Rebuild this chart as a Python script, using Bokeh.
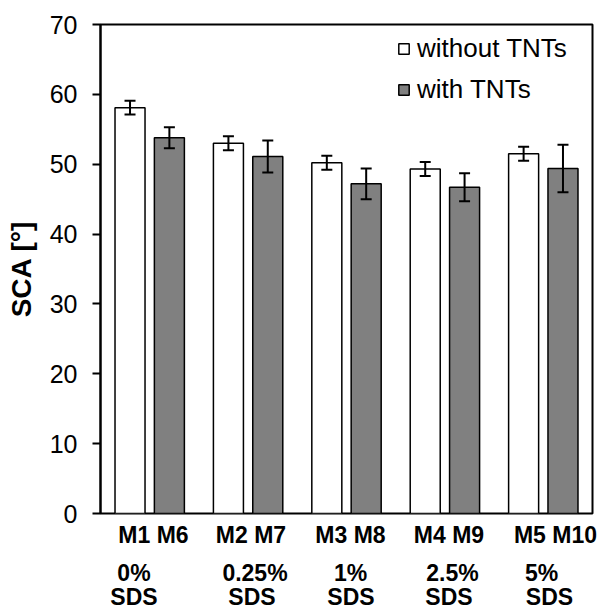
from bokeh.plotting import figure
from bokeh.models import (ColumnDataSource, Range1d, FixedTicker, Whisker, TeeHead,
                          Legend, LegendItem, LinearAxis, CustomJSTickFormatter)
from bokeh.embed import file_html
from bokeh.resources import INLINE

# Static contact angle of the membranes, grouped by SDS concentration
sds_levels = ["0%", "0.25%", "1%", "2.5%", "5%"]
names_without = ["M1", "M2", "M3", "M4", "M5"]
names_with = ["M6", "M7", "M8", "M9", "M10"]
sca_without = [58.1, 53.0, 50.2, 49.3, 51.5]
err_without = [1.0, 1.0, 1.0, 1.0, 1.0]
sca_with = [53.8, 51.1, 47.2, 46.7, 49.4]
err_with = [1.5, 2.3, 2.2, 2.0, 3.4]
y_ticks = [0, 10, 20, 30, 40, 50, 60, 70]

FONT = "Liberation Sans"
W, H = 598, 612
BORDER_L, BORDER_R, BORDER_T, BORDER_B = 100, 6, 24, 96

n = len(sds_levels)
centers = [i + 0.5 for i in range(n)]
shift = 0.2
bar_w = 0.305

src_without = ColumnDataSource(dict(
    x=[c - shift for c in centers], top=sca_without,
    upper=[v + e for v, e in zip(sca_without, err_without)],
    lower=[v - e for v, e in zip(sca_without, err_without)]))
src_with = ColumnDataSource(dict(
    x=[c + shift for c in centers], top=sca_with,
    upper=[v + e for v, e in zip(sca_with, err_with)],
    lower=[v - e for v, e in zip(sca_with, err_with)]))

p = figure(width=W, height=H, output_backend="svg", toolbar_location=None,
           x_range=Range1d(0, n), y_range=Range1d(y_ticks[0], y_ticks[-1]),
           x_axis_location=None,
           min_border_left=BORDER_L, min_border_right=BORDER_R,
           min_border_top=BORDER_T, min_border_bottom=BORDER_B)
p.background_fill_color = "white"
p.border_fill_color = "white"
p.outline_line_color = "black"
p.outline_line_width = 2
p.xgrid.visible = False
p.ygrid.visible = False

yax = p.yaxis[0]
yax.ticker = FixedTicker(ticks=y_ticks)
yax.minor_tick_line_color = None
yax.major_tick_in = 0
yax.major_tick_out = 8
yax.major_tick_line_width = 2
yax.axis_line_width = 2
yax.major_label_standoff = 15
yax.major_label_text_font = FONT
yax.major_label_text_font_size = "25px"
yax.major_label_text_color = "black"
yax.axis_label = "SCA [°]"
yax.axis_label_text_font = FONT
yax.axis_label_text_font_size = "28px"
yax.axis_label_text_font_style = "bold"
yax.axis_label_text_color = "black"
yax.axis_label_standoff = 10

r_without = p.vbar(x="x", top="top", width=bar_w, source=src_without,
                   fill_color="white", line_color="black", line_width=1.5)
r_with = p.vbar(x="x", top="top", width=bar_w, source=src_with,
                fill_color="#808080", line_color="black", line_width=1.5)

for src in (src_without, src_with):
    wk = Whisker(base="x", upper="upper", lower="lower", source=src,
                 line_color="black", line_width=2, level="overlay",
                 upper_head=TeeHead(size=11, line_width=2, line_color="black"),
                 lower_head=TeeHead(size=11, line_width=2, line_color="black"))
    p.add_layout(wk)

legend = Legend(items=[LegendItem(label="without TNTs", renderers=[r_without]),
                       LegendItem(label="with TNTs", renderers=[r_with])],
                location=(297, 408), orientation="vertical",
                glyph_width=13, glyph_height=13, label_standoff=7,
                label_height=30, spacing=10, padding=0, margin=0,
                label_text_font=FONT, label_text_font_size="26px",
                label_text_color="black", label_text_baseline="middle",
                background_fill_alpha=0, border_line_alpha=0)
p.add_layout(legend)

# Category texts under the frame: three stacked axes without lines or ticks,
# each tick placed at the pixel column where its text is centred
frame_w = W - BORDER_L - BORDER_R
px_x = frame_w / n


def to_x(px):
    return round((px - BORDER_L) / px_x, 4)


pair_labels = [f"{a} {b}" for a, b in zip(names_without, names_with)]
rows = [
    (pair_labels, [153, 250.5, 350, 448.5, 555], 8),
    (sds_levels, [133.5, 254.5, 350, 452, 541], 9),
    (["SDS"] * n, [133.5, 251.5, 350.5, 448.5, 549], -5),
]
for texts, xs, standoff in rows:
    ax = LinearAxis(ticker=FixedTicker(ticks=[to_x(v) for v in xs]),
                    formatter=CustomJSTickFormatter(args=dict(labels=texts),
                                                    code="return labels[index]"),
                    axis_line_color=None, major_tick_line_color=None,
                    minor_tick_line_color=None,
                    major_tick_in=0, major_tick_out=0,
                    major_label_standoff=standoff,
                    major_label_text_font=FONT,
                    major_label_text_font_size="23px",
                    major_label_text_font_style="bold",
                    major_label_text_color="black")
    p.add_layout(ax, "below")

open("out.html", "w").write(file_html(p, INLINE))
